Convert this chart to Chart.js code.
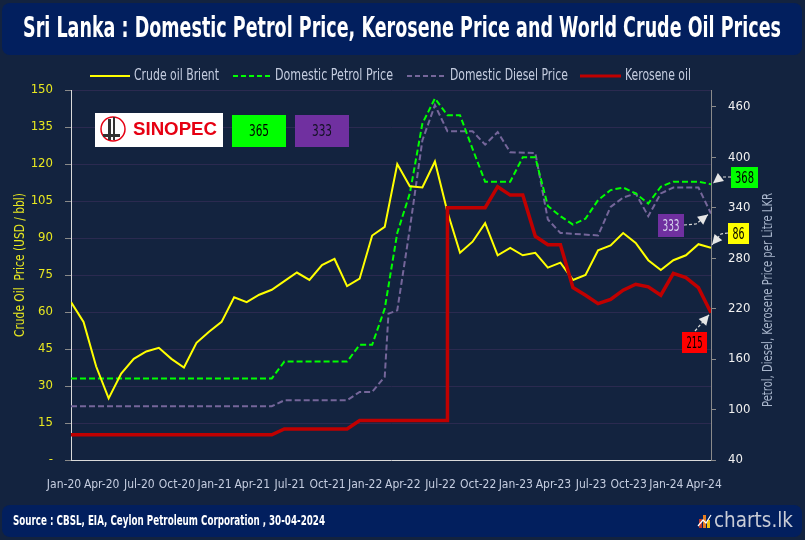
<!DOCTYPE html>
<html>
<head>
<meta charset="utf-8">
<script src="https://cdn.jsdelivr.net/npm/chart.js@4.4.1/dist/chart.umd.min.js"></script>
<style>
  html, body { margin: 0; padding: 0; background: #13233f; }
</style>
</head>
<body>
<canvas id="oilChart" width="805" height="540"></canvas>
<script>
const NARROW = "'Liberation Sans Narrow', 'DejaVu Sans Condensed', 'Liberation Sans', sans-serif";

// x axis: months counted from Jan-20 (0) to Apr-24 (51)
const tickLabels = ["Jan-20", "Apr-20", "Jul-20", "Oct-20", "Jan-21", "Apr-21", "Jul-21", "Oct-21",
  "Jan-22", "Apr-22", "Jul-22", "Oct-22", "Jan-23", "Apr-23", "Jul-23", "Oct-23", "Jan-24", "Apr-24"];
const lkrTicks = [40, 100, 160, 220, 280, 340, 400, 460];

// Brent, USD/bbl, one value per month
const brentUsd = [
  64, 56, 38, 25, 35, 41, 44, 45.5, 41, 37.5, 47.5, 52,
  56, 66, 64, 67, 69, 72.5, 76, 73, 79, 81.5, 70.5, 73.5,
  91, 94.5, 120, 111, 110.5, 121, 100.5, 84, 88.5, 96, 83, 86,
  83, 84, 78, 80, 73, 75, 85, 87, 92, 88, 81, 77,
  81, 83, 87.5, 86
];

// administered prices, LKR per litre, at the months where they move
const petrolMonth = [0, 16, 17, 22, 23, 24, 25, 26, 27, 28, 29, 30, 31, 32, 33, 35, 36, 37, 38, 39,
  40, 41, 42, 43, 44, 45, 46, 47, 48, 50, 51];
const petrolLkr = [137, 137, 157, 157, 177, 177, 220, 310, 357, 440, 470, 450, 450, 410, 371, 371, 400, 400, 342, 330,
  320, 327, 349, 361, 364, 357, 345, 365, 371, 371, 368];

const dieselMonth = [0, 16, 17, 22, 23, 24, 25, 25.3, 26, 27, 28, 29, 30, 32, 33, 34, 35, 37, 38, 39,
  42, 43, 44, 45, 46, 47, 48, 50, 51];
const dieselLkr = [104, 104, 111, 111, 121, 121, 139, 214, 218, 315, 420, 462, 431, 431, 415, 430, 406, 405, 326, 310,
  307, 341, 352, 357, 330, 357, 364, 364, 333];

const keroseneMonth = [0, 16, 17, 22, 23, 30, 30, 33, 34, 35, 36, 37, 38, 39, 40, 41, 42, 43, 44, 45,
  46, 47, 48, 49, 50, 51];
const keroseneLkr = [70, 70, 77, 77, 87, 87, 340, 340, 365, 355, 355, 306, 296, 296, 245, 236, 226, 231, 242, 249,
  246, 236, 262, 257, 245, 215];

const sinopecPetrol = 365;
const sinopecDiesel = 333;

const pts = (months, values) => months.map((m, i) => ({ x: m, y: values[i] }));

function fitText(c, text, x, y, width, font, color, align) {
  c.save();
  c.font = font;
  c.fillStyle = color;
  c.textBaseline = "middle";
  c.textAlign = "left";
  const w = c.measureText(text).width;
  c.translate(x, y);
  c.scale(width / w, 1);
  c.fillText(text, align === "center" ? -w / 2 : 0, 0);
  c.restore();
}

function rrect(c, x, y, w, h, r, color) {
  c.beginPath();
  c.roundRect(x, y, w, h, r);
  c.fillStyle = color;
  c.fill();
}

function arrow(c, path, tip) {
  c.save();
  c.strokeStyle = "#dcdcdc";
  c.fillStyle = "#e6e6e6";
  c.lineWidth = 1.2;
  c.setLineDash([3, 2]);
  c.beginPath();
  c.moveTo(path[0][0], path[0][1]);
  for (let i = 1; i < path.length; i++) c.lineTo(path[i][0], path[i][1]);
  c.lineTo(tip[0], tip[1]);
  c.stroke();
  const last = path[path.length - 1];
  const a = Math.atan2(tip[1] - last[1], tip[0] - last[0]);
  c.setLineDash([]);
  c.beginPath();
  c.moveTo(tip[0], tip[1]);
  c.lineTo(tip[0] - 10 * Math.cos(a) + 5 * Math.sin(a), tip[1] - 10 * Math.sin(a) - 5 * Math.cos(a));
  c.lineTo(tip[0] - 10 * Math.cos(a) - 5 * Math.sin(a), tip[1] - 10 * Math.sin(a) + 5 * Math.cos(a));
  c.closePath();
  c.fill();
  c.restore();
}

function valueBox(c, x, y, w, h, fill, text, textColor, tw) {
  c.fillStyle = fill;
  c.fillRect(x, y, w, h);
  fitText(c, text, x + w / 2, y + h / 2 + 1, tw, "16px " + NARROW, textColor, "center");
}

const decor = {
  id: "decor",
  beforeDraw(chart) {
    const c = chart.ctx;
    c.save();
    c.fillStyle = "#13233f";
    c.fillRect(0, 0, chart.width, chart.height);
    rrect(c, 2, 3, 800, 52, 8, "#021f5e");
    rrect(c, 2, 505, 800, 32, 8, "#021f5e");
    c.restore();
  },
  afterDraw(chart) {
    const c = chart.ctx;
    const { x, usd, lkr } = chart.scales;
    c.save();

    fitText(c, "Sri Lanka : Domestic Petrol Price, Kerosene Price and World Crude Oil Prices",
      23, 30, 758, "bold 28px " + NARROW, "#ffffff");
    fitText(c, "Source : CBSL, EIA, Ceylon Petroleum Corporation , 30-04-2024",
      13, 521, 312, "bold 14px " + NARROW, "#ffffff");

    // charts.lk mark
    [["#c0392b", 699, 519, 3, 9], ["#e67e22", 703, 515, 3, 13], ["#f1c40f", 707, 520, 3, 8]]
      .forEach(([col, bx, by, bw, bh]) => { c.fillStyle = col; c.fillRect(bx, by, bw, bh); });
    c.strokeStyle = "#ffffff";
    c.lineWidth = 1.2;
    c.beginPath(); c.moveTo(698, 526); c.lineTo(703, 520); c.lineTo(706, 523); c.lineTo(711, 515); c.stroke();
    fitText(c, "charts.lk", 714, 521, 79, "22px " + NARROW, "#c9ccd6");

    // legend
    const legend = [
      { t: "Crude oil Brient", col: "#ffff00", dash: [], lw: 2, x0: 90, x1: 130, tx: 134, tw: 85 },
      { t: "Domestic Petrol Price", col: "#00ff00", dash: [5, 3], lw: 2, x0: 233, x1: 272, tx: 275, tw: 118 },
      { t: "Domestic Diesel Price", col: "#75669a", dash: [5, 3], lw: 2, x0: 407, x1: 446, tx: 450, tw: 118 },
      { t: "Kerosene oil", col: "#c00000", dash: [], lw: 3, x0: 580, x1: 621, tx: 625, tw: 66 }
    ];
    legend.forEach(it => {
      c.strokeStyle = it.col;
      c.lineWidth = it.lw;
      c.setLineDash(it.dash);
      c.beginPath(); c.moveTo(it.x0, 76); c.lineTo(it.x1, 76); c.stroke();
      c.setLineDash([]);
      fitText(c, it.t, it.tx, 76, it.tw, "15px " + NARROW, "#c5cde0");
    });

    // axis titles
    c.save();
    c.translate(20, 265);
    c.rotate(-Math.PI / 2);
    fitText(c, "Crude Oil  Price (USD / bbl)", 0, 0, 144, "14px " + NARROW, "#e8e820", "center");
    c.restore();
    c.save();
    c.translate(768, 300);
    c.rotate(-Math.PI / 2);
    fitText(c, "Petrol, Diesel, Kerosene Price per Litre LKR", 0, 0, 214, "14px " + NARROW, "#a9b6cc", "center");
    c.restore();

    // Sinopec logo and its prices
    c.fillStyle = "#ffffff";
    c.fillRect(95, 113, 128, 34);
    c.strokeStyle = "#e60012";
    c.lineWidth = 1.5;
    c.beginPath(); c.arc(113, 129, 12, 0, Math.PI * 2); c.stroke();
    c.fillStyle = "#333333";
    c.fillRect(108, 119, 3, 21);
    c.fillRect(113, 117, 2, 23);
    c.fillRect(103, 134, 17, 3);
    fitText(c, "SINOPEC", 133, 130, 84, "bold 19px 'Liberation Sans', sans-serif", "#e60012");
    valueBox(c, 232, 115, 54, 32, "#00ff00", String(sinopecPetrol), "#000000", 20);
    valueBox(c, 295, 115, 54, 32, "#7030a0", String(sinopecDiesel), "#111122", 20);

    // latest values
    const endX = x.getPixelForValue(51);
    const pEnd = lkr.getPixelForValue(petrolLkr[petrolLkr.length - 1]);
    const bEnd = usd.getPixelForValue(brentUsd[brentUsd.length - 1]);
    const dEnd = lkr.getPixelForValue(dieselLkr[dieselLkr.length - 1]);
    const kEnd = lkr.getPixelForValue(keroseneLkr[keroseneLkr.length - 1]);

    arrow(c, [[731, 177], [721, 177]], [endX + 2, pEnd - 1]);
    valueBox(c, 731, 167, 27, 21, "#00ff00", String(petrolLkr[petrolLkr.length - 1]), "#000000", 19);
    arrow(c, [[728, 233], [721, 234]], [endX + 1, bEnd - 3]);
    valueBox(c, 728, 223, 21, 21, "#ffff00", String(brentUsd[brentUsd.length - 1]), "#000000", 12);
    arrow(c, [[684, 225], [696, 224]], [endX - 3, dEnd + 1]);
    valueBox(c, 658, 214, 26, 23, "#7030a0", String(dieselLkr[dieselLkr.length - 1]), "#d8d8f0", 17);
    arrow(c, [[695, 331]], [endX - 2, kEnd + 2]);
    valueBox(c, 682, 332, 25, 21, "#ff0000", String(keroseneLkr[keroseneLkr.length - 1]), "#000000", 16);

    c.restore();
  }
};

Chart.defaults.font.family = NARROW;

new Chart(document.getElementById("oilChart"), {
  type: "line",
  data: {
    datasets: [
      { label: "Kerosene oil", data: pts(keroseneMonth, keroseneLkr), yAxisID: "lkr",
        borderColor: "#c00000", borderWidth: 3.5, order: 0 },
      { label: "Crude oil Brient", data: brentUsd.map((v, i) => ({ x: i, y: v })), yAxisID: "usd",
        borderColor: "#ffff00", borderWidth: 2, order: 1 },
      { label: "Domestic Petrol Price", data: pts(petrolMonth, petrolLkr), yAxisID: "lkr",
        borderColor: "#00ff00", borderWidth: 2, borderDash: [6, 3], order: 2 },
      { label: "Domestic Diesel Price", data: pts(dieselMonth, dieselLkr), yAxisID: "lkr",
        borderColor: "#75669a", borderWidth: 2, borderDash: [6, 3], order: 3 }
    ]
  },
  options: {
    responsive: false,
    animation: false,
    elements: { point: { radius: 0 }, line: { tension: 0 } },
    layout: { padding: { top: 90, left: 0, right: 0, bottom: 0 } },
    plugins: { legend: { display: false }, tooltip: { enabled: false } },
    scales: {
      x: {
        type: "linear", min: 0, max: 51,
        afterFit: s => { s.height = 80; },
        grid: { display: false, drawTicks: false },
        border: { color: "#d9d9d9" },
        ticks: {
          stepSize: 3, autoSkip: false, maxRotation: 0, labelOffset: -7, padding: 18,
          color: "#c5cde0", font: { size: 12 },
          callback: v => tickLabels[v / 3]
        }
      },
      usd: {
        position: "left", min: 0, max: 150,
        afterFit: s => { s.width = 71; },
        grid: { color: "#2b2a50", tickColor: "#8a8a8a", tickLength: 6 },
        border: { color: "#d9d9d9" },
        ticks: { stepSize: 15, padding: 12, color: "#e8e820", font: { size: 13 },
          callback: v => (v === 0 ? "-" : v) }
      },
      lkr: {
        position: "right", min: 40, max: 480,
        afterBuildTicks: s => { s.ticks = lkrTicks.map(v => ({ value: v })); },
        afterFit: s => { s.width = 94; },
        grid: { drawOnChartArea: false, tickColor: "#8a8a8a", tickLength: 5 },
        border: { color: "#8a8a8a" },
        ticks: { padding: 12, color: "#f0f0f0", font: { size: 13 } }
      }
    }
  },
  plugins: [decor]
});
</script>
</body>
</html>
